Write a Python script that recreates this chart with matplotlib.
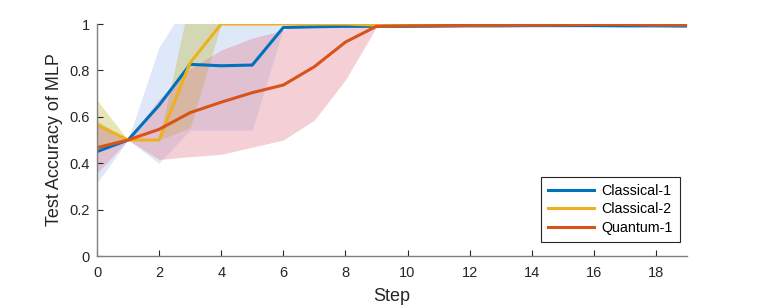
import numpy as np
import matplotlib
matplotlib.use('Agg')
import matplotlib.pyplot as plt

plt.rcParams['font.family'] = ['Liberation Sans', 'DejaVu Sans']

###### data ######

steps = np.arange(20)

c1_mean = [0.45, 0.5, 0.65, 0.826, 0.82, 0.823, 0.985, 0.988, 0.99, 0.99,
           0.99, 0.991, 0.992, 0.992, 0.993, 0.993, 0.993, 0.992, 0.992, 0.991]
c1_std = [0.135, 0.0, 0.25, 0.283, 0.277, 0.28, 0.005, 0.004, 0.004, 0.004,
          0.004, 0.004, 0.004, 0.004, 0.004, 0.004, 0.004, 0.004, 0.004, 0.004]

c2_mean = [0.565, 0.5, 0.5, 0.833, 1.0, 1.0, 1.0, 1.0, 1.0, 0.995,
           0.995, 0.996, 0.996, 0.997, 0.997, 0.998, 0.998, 0.998, 0.997, 0.997]
c2_std = [0.107, 0.0, 0.0, 0.28, 0.0, 0.0, 0.0, 0.0, 0.0, 0.003,
          0.003, 0.003, 0.003, 0.003, 0.003, 0.003, 0.003, 0.003, 0.003, 0.003]

q1_mean = [0.467, 0.5, 0.546, 0.618, 0.663, 0.704, 0.737, 0.816, 0.922, 0.99,
           0.992, 0.993, 0.994, 0.995, 0.996, 0.996, 0.998, 0.998, 0.997, 0.997]
q1_std = [0.11, 0.0, 0.13, 0.19, 0.225, 0.235, 0.237, 0.23, 0.163, 0.003,
          0.003, 0.003, 0.003, 0.003, 0.003, 0.003, 0.003, 0.003, 0.003, 0.003]

labels = ['Classical-1', 'Classical-2', 'Quantum-1']

line_colors = [(0, 0.447, 0.741), (0.929, 0.694, 0.125), (0.85, 0.325, 0.098)]
band_colors = [(0.55, 0.68, 0.92), (0.75, 0.72, 0.2), (0.88, 0.45, 0.52)]
band_alpha = [0.28, 0.35, 0.33]

###### plot ######

fig = plt.figure(figsize=(7.61, 3.06), dpi=100)
ax = fig.add_axes([97/761, 1-256/306, 590/761, 232/306])

series = [(c1_mean, c1_std), (c2_mean, c2_std), (q1_mean, q1_std)]
# each line goes down first, then its shaded band over it
for (m, s), lc, bc, a, lab in zip(series, line_colors, band_colors, band_alpha, labels):
    m = np.array(m)
    s = np.array(s)
    ax.plot(steps, m, color=lc, linewidth=2.2, label=lab)
    ax.fill_between(steps, m - s, m + s, color=bc, alpha=a, linewidth=0)

ax.set_xlim(0, 19)
ax.set_ylim(0, 1)
ax.set_xticks(np.arange(0, 19, 2))
ax.set_yticks([0, 0.2, 0.4, 0.6, 0.8, 1])
ax.set_yticklabels(['0', '0.2', '0.4', '0.6', '0.8', '1'])
ax.tick_params(direction='in', length=4, labelsize=10.5, colors=(0.15, 0.15, 0.15))
ax.tick_params(axis='x', pad=7)
ax.tick_params(axis='y', pad=5)
ax.spines['top'].set_visible(False)
ax.spines['right'].set_visible(False)
for sp in ['left', 'bottom']:
    ax.spines[sp].set_color((0.5, 0.5, 0.5))
    ax.spines[sp].set_linewidth(1.0)

ax.set_xlabel('Step', fontsize=13, color=(0.15, 0.15, 0.15), labelpad=6)
ax.set_ylabel('Test Accuracy of MLP', fontsize=13, color=(0.15, 0.15, 0.15), labelpad=5)

leg = ax.legend(loc='lower right', fontsize=10.3, frameon=True, fancybox=False,
                handlelength=3.2, borderpad=0.5, labelspacing=0.3,
                handletextpad=0.5, bbox_to_anchor=(1.0, 0.03))
leg.get_frame().set_edgecolor((0.15, 0.15, 0.15))
leg.get_frame().set_linewidth(0.8)
leg.get_frame().set_alpha(1)

plt.savefig('out.png', dpi=100, facecolor='w')
